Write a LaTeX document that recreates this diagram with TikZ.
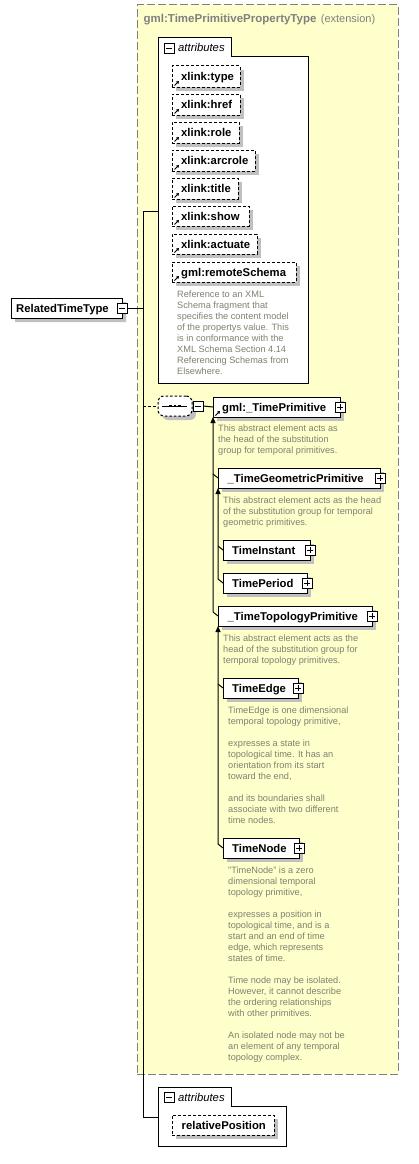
\documentclass[tikz,border=0pt]{standalone}
\usepackage{fontspec}
\setmainfont{Liberation Sans}
\usetikzlibrary{shapes.misc,shadows,arrows.meta,calc}
\definecolor{yelfill}{RGB}{255,255,204}
\definecolor{framegray}{RGB}{128,128,128}
\definecolor{shadowgray}{RGB}{192,192,192}
\definecolor{desctext}{RGB}{128,128,112}
\definecolor{titletext}{RGB}{128,128,128}
\tikzset{
  conn/.style={line width=1pt, draw=black},
  elembox/.style={draw=black, line width=1pt, fill=white, inner sep=0pt, outer sep=0pt,
    drop shadow={shadow xshift=4pt, shadow yshift=-4pt, fill=shadowgray, opacity=1}},
  attrbox/.style={elembox, dash pattern=on 3pt off 2pt},
  rttbox/.style={elembox, chamfered rectangle, chamfered rectangle corners={north west,south west},
    chamfered rectangle xsep=4pt, chamfered rectangle ysep=4pt},
  compbox/.style={elembox, rectangle, rounded corners=6pt, dash pattern=on 2.5pt off 2pt},
  pmbox/.style={draw=black, line width=0.8pt, fill=white, minimum size=10pt, inner sep=0pt, outer sep=0pt},
  lbl/.style={inner sep=0pt, font=\bfseries\fontsize{11.3}{13}\selectfont},
  descr/.style={anchor=north west, align=left, inner sep=0pt, text=desctext, font=\fontsize{9.2}{11}\selectfont},
  grouplbl/.style={anchor=base west, inner sep=0pt, font=\itshape\fontsize{11.3}{13}\selectfont},
  groupframe/.style={draw=black, line width=1pt, fill=white},
  extbox/.style={draw=framegray, line width=1pt, dash pattern=on 8pt off 3pt, fill=yelfill, inner sep=0pt},
  refarrow/.style={line width=0.9pt, -{Triangle[width=3pt,length=2.5pt]}},
  subarrow/.style={conn, {Triangle[width=5pt,length=6pt]}-},
}
\newcommand\mkbox[8]{%
  \node[#1, minimum width={(#5-#3)*1pt}, minimum height={(#6-#4)*1pt}] (#2) at ({(#3+#5)/2},{(#4+#6)/2}) {};
  \node[lbl, anchor=base west] (#2-t) at ([xshift=#7pt,yshift=-4pt]#2.west) {#8};}
\newcommand\mkplus[2]{%
  \node[pmbox] (#1) at (#2) {};
  \draw[line width=0.8pt] ([xshift=-3pt]#1.center) -- ([xshift=3pt]#1.center)
    ([yshift=-3pt]#1.center) -- ([yshift=3pt]#1.center);}
\newcommand\mkminus[2]{%
  \node[pmbox] (#1) at (#2) {};
  \draw[line width=0.8pt] ([xshift=-3pt]#1.center) -- ([xshift=3pt]#1.center);}
\newcommand\mkref[1]{\draw[refarrow] ([xshift=2.5pt,yshift=1.5pt]#1.south west) -- ([xshift=7pt,yshift=6pt]#1.south west);}
\begin{document}
\begin{tikzpicture}[x=1pt,y=-1pt]
\useasboundingbox (0,0) rectangle (419,1164);
\fill[white] (0,0) rectangle (419,1164);
% extension container
\node[extbox, minimum width=261pt, minimum height=1069pt] (ext) at (267.5,539.5) {};
\node[anchor=base west, inner sep=0pt, text=titletext, font=\bfseries\fontsize{11.5}{13}\selectfont] (title) at (143.5,23) {gml:TimePrimitivePropertyType};
\node[anchor=base west, inner sep=0pt, text=titletext, font=\fontsize{11}{13}\selectfont] (title-ext) at ([xshift=4pt]title.base east) {(extension)};
% attribute group 1
\draw[groupframe] (158,38) -- (231,38) -- (231,57) -- (308,57) -- (308,383) -- (158,383) -- cycle;
\mkminus{g1m}{169,48}
\node[grouplbl] (g1l) at (178,52) {attributes};
\mkbox{attrbox}{xt}{172}{66}{240}{87}{9}{xlink:type}\mkref{xt}
\mkbox{attrbox}{xh}{172}{94}{240}{115}{9}{xlink:href}\mkref{xh}
\mkbox{attrbox}{xr}{172}{122}{239}{143}{9}{xlink:role}\mkref{xr}
\mkbox{attrbox}{xa}{172}{150}{255}{171}{9}{xlink:arcrole}\mkref{xa}
\mkbox{attrbox}{xti}{172}{178}{238}{199}{9}{xlink:title}\mkref{xti}
\mkbox{attrbox}{xs}{172}{206}{249}{226}{9}{xlink:show}\mkref{xs}
\mkbox{attrbox}{xac}{172}{234}{257}{254}{9}{xlink:actuate}\mkref{xac}
\mkbox{attrbox}{rs}{172}{262}{296}{282}{9}{gml:remoteSchema}\mkref{rs}
\node[descr] (rs-d) at (177,290.5) {Reference to an XML\\Schema fragment that\\specifies the content model\\of the propertys value. This\\is in conformance with the\\XML Schema Section 4.14\\Referencing Schemas from\\Elsewhere.};
% root
\mkbox{rttbox}{rtt}{11}{298}{122}{318}{5}{RelatedTimeType}
\mkminus{rtt-m}{rtt.east}
% sequence compositor
\node[compbox, minimum width=34pt, minimum height=20pt] (comp) at (175,406) {};
\draw[line width=1pt] ([xshift=-13pt]comp.center) -- ([xshift=12pt]comp.center);
\fill ([xshift=-5.6pt,yshift=-1.4pt]comp.center) rectangle ([xshift=-2.8pt,yshift=1.4pt]comp.center);
\fill ([xshift=-1.4pt,yshift=-1.4pt]comp.center) rectangle ([xshift=1.4pt,yshift=1.4pt]comp.center);
\fill ([xshift=2.8pt,yshift=-1.4pt]comp.center) rectangle ([xshift=5.6pt,yshift=1.4pt]comp.center);
\mkminus{comp-m}{[xshift=6pt]comp.east}
% elements
\mkbox{elembox}{tp}{213}{397}{340}{417}{9}{gml:\_TimePrimitive}\mkref{tp}\mkplus{tp-p}{tp.east}
\node[descr] (tp-d) at (218,424.5) {This abstract element acts as\\the head of the substitution\\group for temporal primitives.};
\mkbox{elembox}{tgp}{218}{468}{380}{488}{9.5}{\_TimeGeometricPrimitive}\mkplus{tgp-p}{tgp.east}
\node[descr] (tgp-d) at (223,496.5) {This abstract element acts as the head\\of the substitution group for temporal\\geometric primitives.};
\mkbox{elembox}{tin}{223}{540}{310}{560}{9}{TimeInstant}\mkplus{tin-p}{tin.east}
\mkbox{elembox}{tpe}{223}{573}{307}{593}{9}{TimePeriod}\mkplus{tpe-p}{tpe.east}
\mkbox{elembox}{ttp}{218}{606}{372}{626}{9.5}{\_TimeTopologyPrimitive}\mkplus{ttp-p}{ttp.east}
\node[descr] (ttp-d) at (223,634.5) {This abstract element acts as the\\head of the substitution group for\\temporal topology primitives.};
\mkbox{elembox}{ted}{223}{678}{298}{698}{9}{TimeEdge}\mkplus{ted-p}{ted.east}
\node[descr] (ted-d) at (228,706.5) {TimeEdge is one dimensional\\temporal topology primitive,\\[11pt]expresses a state in\\topological time. It has an\\orientation from its start\\toward the end,\\[11pt]and its boundaries shall\\associate with two different\\time nodes.};
\mkbox{elembox}{tno}{223}{838}{299}{858}{9}{TimeNode}\mkplus{tno-p}{tno.east}
\node[descr] (tno-d) at (228,866.5) {"TimeNode" is a zero\\dimensional temporal\\topology primitive,\\[11pt]expresses a position in\\topological time, and is a\\start and an end of time\\edge, which represents\\states of time.\\[11pt]Time node may be isolated.\\However, it cannot describe\\the ordering relationships\\with other primitives.\\[11pt]An isolated node may not be\\an element of any temporal\\topology complex.};
% attribute group 2
\draw[groupframe] (158,1087) -- (231,1087) -- (231,1106) -- (286,1106) -- (286,1146) -- (158,1146) -- cycle;
\mkminus{g2m}{169,1097}
\node[grouplbl] (g2l) at (178,1101) {attributes};
\mkbox{attrbox}{rp}{172}{1115}{274}{1135}{9.5}{relativePosition}
% connectors
\coordinate (trT) at (143,211);
\coordinate (trB) at (143,1117);
\coordinate (g1in) at (158,211);
\coordinate (g2in) at (158,1117);
\draw[conn] (g1in) -- (trT) -- (trB) -- (g2in);
\draw[conn] (rtt-m.east) -- (rtt-m.east -| trT);
\draw[conn, dash pattern=on 2.5pt off 2.5pt] (comp.west -| trT) -- (comp.west);
\draw[conn] (comp-m.east) -- (tp.west);
\draw[subarrow] (tp.south west) -- ($(tp.south west |- ttp.west)+(0,-4)$) -- (ttp.west);
\draw[conn] ($(tp.south west |- tgp.west)+(0,-4)$) -- (tgp.west);
\draw[subarrow] (tgp.south west) -- ($(tgp.south west |- tpe.west)+(0,-4)$) -- (tpe.west);
\draw[conn] ($(tgp.south west |- tin.west)+(0,-4)$) -- (tin.west);
\draw[subarrow] (ttp.south west) -- ($(ttp.south west |- tno.west)+(0,-4)$) -- (tno.west);
\draw[conn] ($(ttp.south west |- ted.west)+(0,-4)$) -- (ted.west);
\end{tikzpicture}
\end{document}
